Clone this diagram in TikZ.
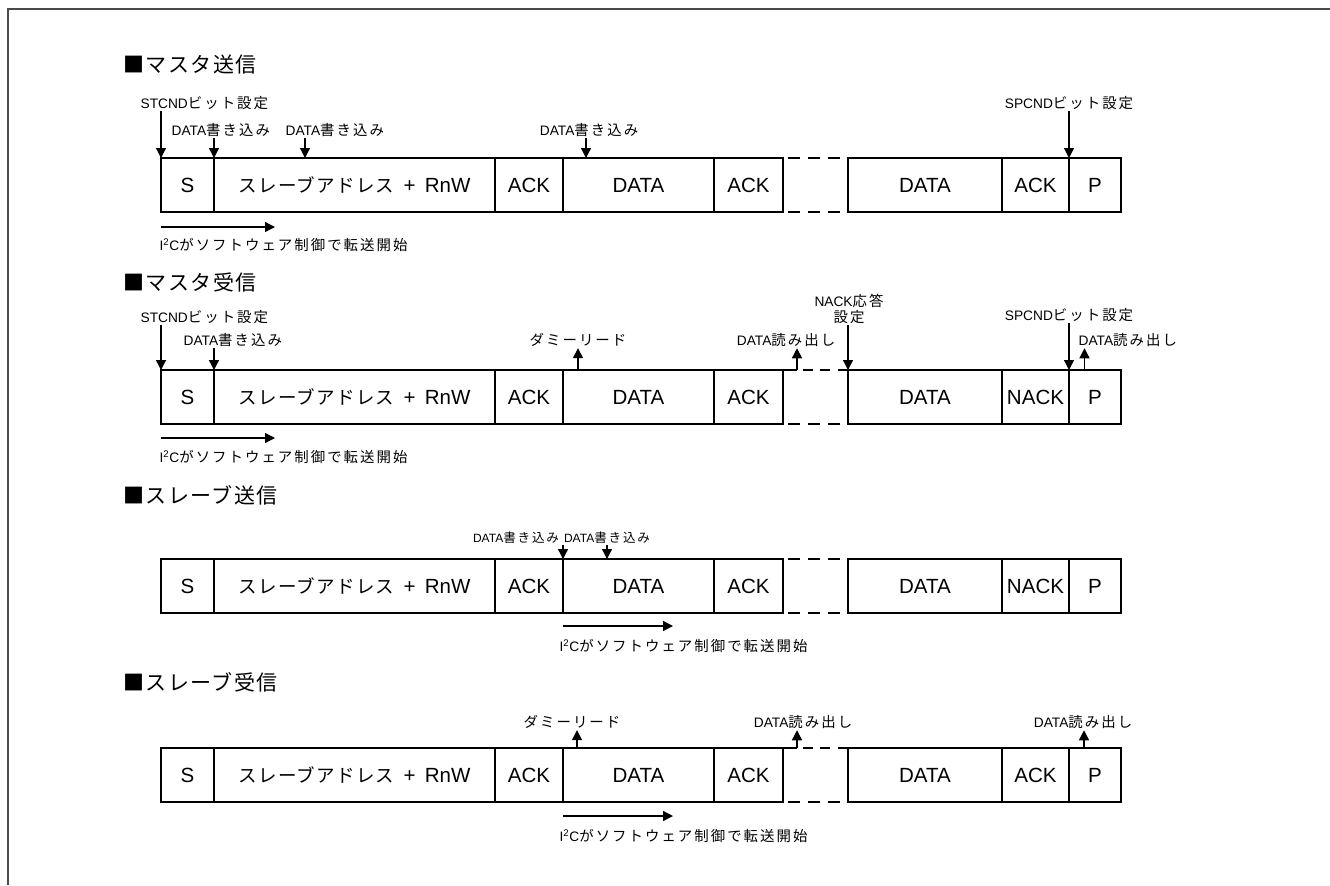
\documentclass[tikz,border=0pt]{standalone}
\usepackage{fontspec}
\setmainfont{Liberation Sans}
\newfontfamily\jp[Scale=1.05, LetterSpace=14]{Noto Sans CJK JP}
\newfontfamily\jpb[Scale=0.9, LetterSpace=7]{Noto Sans CJK JP}
\usepackage{xcolor}
\usepackage{tikz}
\usetikzlibrary{arrows.meta, calc}
\definecolor{FrameGray}{HTML}{4A4A4A}

\begin{document}
\begin{tikzpicture}[
                x=0.75pt, y=-0.75pt,
                >={Triangle[width=7.5pt, length=7.5pt]},
                cell/.style={draw, line width=1.6pt, minimum width=0.75pt*#1, minimum height=40.5pt, inner sep=0pt, outer sep=0pt, anchor=north west, font=\fontsize{15.4}{18}\selectfont},
                lbl/.style={inner sep=1pt, font=\fontsize{10.3}{12}\selectfont},
                lblc/.style={inner sep=1pt, font=\fontsize{9}{10}\selectfont},
                title/.style={anchor=west, inner sep=0pt, font=\fontsize{17.5}{20}\selectfont\jpb},
                gap/.style={line width=1.6pt, dash pattern=on 9pt off 6pt, dash phase=11pt},
                gapb/.style={line width=1.6pt, dash pattern=on 7.5pt off 5.5pt, dash phase=8.5pt},
                ptr/.style={->, line width=1pt}
            ]
                \useasboundingbox (0,0) rectangle (1330,885);
                \draw[FrameGray, line width=1.5pt] (1330,9) -- (8,9) -- (8,885);

                % Frames
                \foreach \r/\y/\k in {1/158/ACK, 2/370/NACK, 3/559/NACK, 4/748/ACK} {
                    \node[cell=53] (s\r) at (161,\y) {S};
                    \node[cell=281] (addr\r) at (214,\y) {{\jpb スレーブアドレス}\hspace{0.45em}+\hspace{0.45em}RnW};
                    \node[cell=68] (acka\r) at (495,\y) {ACK};
                    \node[cell=151] (data\r) at (563,\y) {DATA};
                    \node[cell=69] (ackb\r) at (714,\y) {ACK};
                    \node[cell=154] (datb\r) at (848,\y) {DATA};
                    \node[cell=67] (resp\r) at (1002,\y) {\k};
                    \node[cell=52] (p\r) at (1069,\y) {P};
                    \draw[gap] (ackb\r.south east) -- (datb\r.south west);
                }

                % Master transmit
                \node[title] (t1) at (123,65) {■マスタ送信};
                \node[lbl, anchor=west] (stc1) at (139,103) {STCND{\jp ビット設定}};
                \node[lbl, anchor=west] (wa1) at (170,130) {DATA{\jp 書き込み}};
                \node[lbl, anchor=west] (wb1) at (284,130) {DATA{\jp 書き込み}};
                \node[lbl] (wc1) at (589,130) {DATA{\jp 書き込み}};
                \node[lbl] (spc1) at (1069,103) {SPCND{\jp ビット設定}};
                \coordinate (wb1p) at (305,158);
                \coordinate (wc1p) at (586,158);
                \draw[ptr] (stc1.south -| s1.north west) -- (s1.north west);
                \draw[ptr] (wa1.south -| addr1.north west) -- (addr1.north west);
                \draw[ptr] (wb1.south -| wb1p) -- (wb1p);
                \draw[ptr] (wc1.south -| wc1p) -- (wc1p);
                \draw[ptr] (spc1.south -| p1.north west) -- (p1.north west);
                \draw[gap] (ackb1.north east) -- (datb1.north west);
                \coordinate (go1a) at (161,227);
                \coordinate (go1b) at (275,227);
                \draw[ptr] (go1a) -- (go1b);
                \node[lbl, anchor=west] (go1) at (158,245) {I\textsuperscript{2}C{\jp がソフトウェア制御で転送開始}};

                % Master receive
                \node[title] (t2) at (123,282) {■マスタ受信};
                \node[lbl, anchor=west] (stc2) at (139,317) {STCND{\jp ビット設定}};
                \node[lbl, anchor=west] (wa2) at (182,340) {DATA{\jp 書き込み}};
                \node[lbl] (dm2) at (578,340) {\jp ダミーリード};
                \node[lbl] (rd2) at (786,340) {DATA{\jp 読み出し}};
                \node[lbl, align=center] (nk2) at (849,309) {NACK{\jp 応答}\\{\jp 設定}};
                \node[lbl] (spc2) at (1069,315) {SPCND{\jp ビット設定}};
                \node[lbl, anchor=west] (rdb2) at (1077,340) {DATA{\jp 読み出し}};
                \coordinate (dm2p) at (578,370);
                \coordinate (rd2p) at (797,370);
                \coordinate (rdb2p) at (1084.5,370);
                \draw[ptr] (stc2.south -| s2.north west) -- (s2.north west);
                \draw[ptr] (wa2.south -| addr2.north west) -- (addr2.north west);
                \draw[ptr] (dm2p) -- (dm2.south -| dm2p);
                \draw[ptr] (rd2p) -- (rd2.south -| rd2p);
                \draw[ptr] (nk2.south -| datb2.north west) -- (datb2.north west);
                \draw[ptr] (spc2.south -| p2.north west) -- (p2.north west);
                \draw[ptr] (rdb2p) -- (rdb2.south -| rdb2p);
                \draw[line width=1.6pt] (ackb2.north east) -- (rd2p);
                \draw[gapb] (rd2p) -- (datb2.north west);
                \coordinate (go2a) at (161,438);
                \coordinate (go2b) at (275,438);
                \draw[ptr] (go2a) -- (go2b);
                \node[lbl, anchor=west] (go2) at (158,457) {I\textsuperscript{2}C{\jp がソフトウェア制御で転送開始}};

                % Slave transmit
                \node[title] (t3) at (123,495) {■スレーブ送信};
                \node[lblc] (wa3) at (516,538) {DATA{\jp 書き込み}};
                \node[lblc] (wb3) at (607,538) {DATA{\jp 書き込み}};
                \coordinate (wb3p) at (607,559);
                \draw[ptr] (wa3.south -| data3.north west) -- (data3.north west);
                \draw[ptr] (wb3.south -| wb3p) -- (wb3p);
                \draw[gap] (ackb3.north east) -- (datb3.north west);
                \coordinate (go3a) at (563,626);
                \coordinate (go3b) at (673,626);
                \draw[ptr] (go3a) -- (go3b);
                \node[lbl, anchor=west] (go3) at (558,646) {I\textsuperscript{2}C{\jp がソフトウェア制御で転送開始}};

                % Slave receive
                \node[title] (t4) at (123,682) {■スレーブ受信};
                \node[lbl] (dm4) at (572,722) {\jp ダミーリード};
                \node[lbl] (rd4) at (803,722) {DATA{\jp 読み出し}};
                \node[lbl] (rdb4) at (1083,722) {DATA{\jp 読み出し}};
                \coordinate (dm4p) at (577,748);
                \coordinate (rd4p) at (797,748);
                \coordinate (rdb4p) at (1084,748);
                \draw[ptr] (dm4p) -- (dm4.south -| dm4p);
                \draw[ptr] (rd4p) -- (rd4.south -| rd4p);
                \draw[ptr] (rdb4p) -- (rdb4.south -| rdb4p);
                \draw[line width=1.6pt] (ackb4.north east) -- (rd4p);
                \draw[gapb] (rd4p) -- (datb4.north west);
                \coordinate (go4a) at (563,816);
                \coordinate (go4b) at (673,816);
                \draw[ptr] (go4a) -- (go4b);
                \node[lbl, anchor=west] (go4) at (558,836) {I\textsuperscript{2}C{\jp がソフトウェア制御で転送開始}};
            \end{tikzpicture}
\end{document}
